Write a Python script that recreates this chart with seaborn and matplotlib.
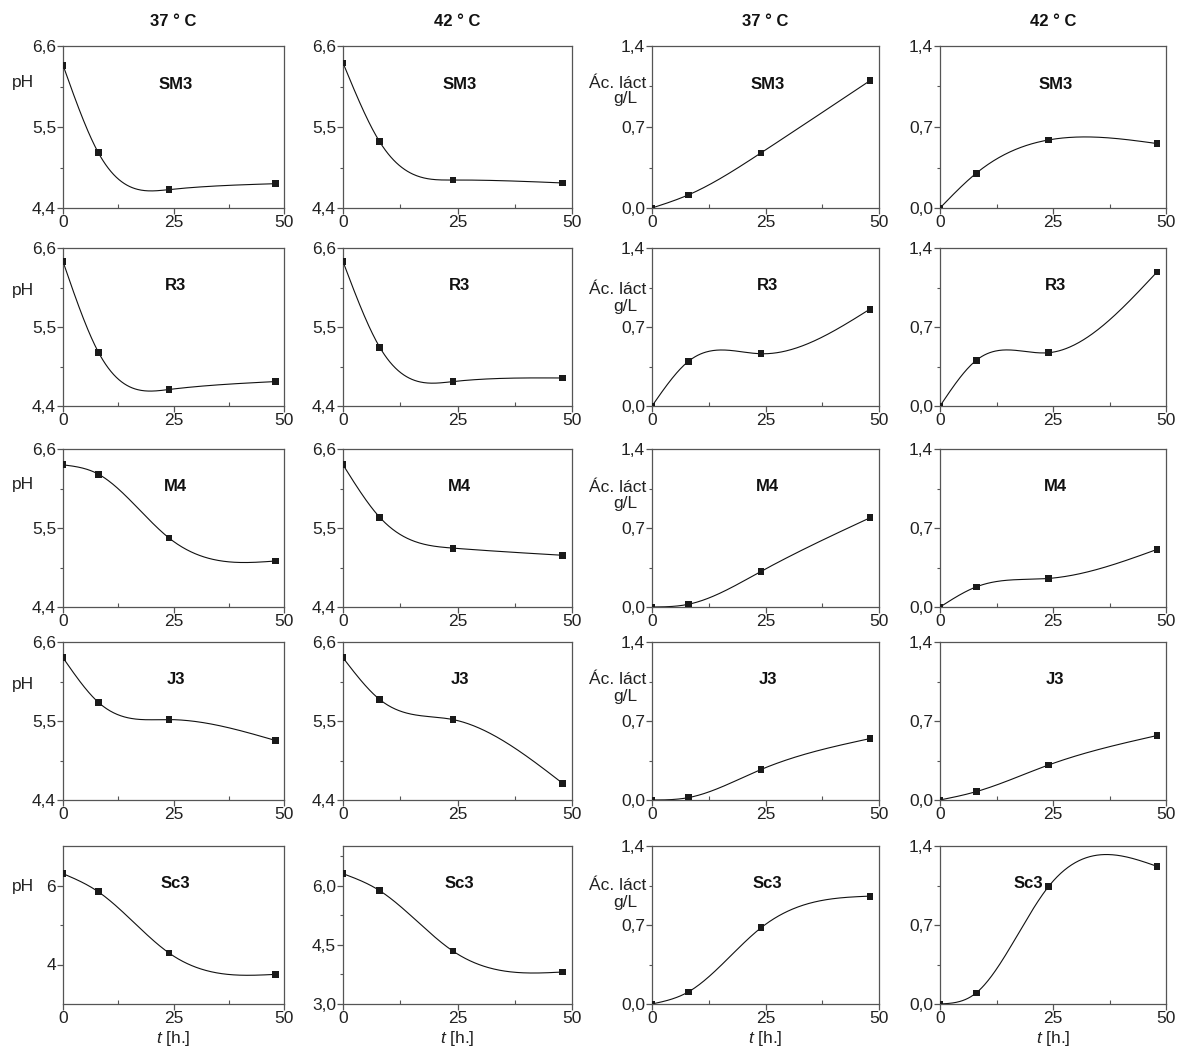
import numpy as np
import pandas as pd
import matplotlib
matplotlib.use("Agg")
import matplotlib.pyplot as plt
import seaborn as sns
from matplotlib.ticker import FixedLocator, FixedFormatter

# ---------------- data ----------------
t_hours = [0, 8, 24, 48]
strains = ["SM3", "R3", "M4", "J3", "Sc3"]
col_titles = ["37 ° C", "42 ° C", "37 ° C", "42 ° C"]

ph37_sm3 = [6.34, 5.15, 4.65, 4.73]
ph37_r3 = [6.41, 5.15, 4.63, 4.74]
ph37_m4 = [6.38, 6.25, 5.36, 5.04]
ph37_j3 = [6.38, 5.76, 5.52, 5.23]
ph37_sc3 = [6.30, 5.84, 4.29, 3.75]

ph42_sm3 = [6.37, 5.30, 4.78, 4.74]
ph42_r3 = [6.41, 5.22, 4.74, 4.79]
ph42_m4 = [6.38, 5.65, 5.22, 5.12]
ph42_j3 = [6.38, 5.80, 5.52, 4.63]
ph42_sc3 = [6.30, 5.87, 4.34, 3.81]

lac37_sm3 = [0.0, 0.113, 0.476, 1.10]
lac37_r3 = [0.0, 0.395, 0.463, 0.858]
lac37_m4 = [0.0, 0.024, 0.315, 0.79]
lac37_j3 = [0.0, 0.021, 0.27, 0.544]
lac37_sc3 = [0.0, 0.107, 0.675, 0.956]

lac42_sm3 = [0.0, 0.30, 0.588, 0.557]
lac42_r3 = [0.0, 0.404, 0.472, 1.187]
lac42_m4 = [0.0, 0.178, 0.253, 0.51]
lac42_j3 = [0.0, 0.074, 0.31, 0.571]
lac42_sc3 = [0.0, 0.098, 1.04, 1.22]

ph_ticks = [4.4, 5.5, 6.6]
ph_ticklabels = ["4,4", "5,5", "6,6"]
sc3_ph37_ticks = [4, 6]
sc3_ph37_ticklabels = ["4", "6"]
sc3_ph42_ticks = [3.0, 4.5, 6.0]
sc3_ph42_ticklabels = ["3,0", "4,5", "6,0"]
lac_ticks = [0.0, 0.7, 1.4]
lac_ticklabels = ["0,0", "0,7", "1,4"]
x_ticks = [0, 25, 50]
x_ticklabels = ["0", "25", "50"]

columns = [
    [ph37_sm3, ph37_r3, ph37_m4, ph37_j3, ph37_sc3],
    [ph42_sm3, ph42_r3, ph42_m4, ph42_j3, ph42_sc3],
    [lac37_sm3, lac37_r3, lac37_m4, lac37_j3, lac37_sc3],
    [lac42_sm3, lac42_r3, lac42_m4, lac42_j3, lac42_sc3],
]


def natural_spline(x, y, n=240):
    """Smooth connecting line (natural cubic spline) through the data points."""
    x = np.asarray(x, float)
    y = np.asarray(y, float)
    k = len(x)
    h = np.diff(x)
    A = np.zeros((k, k))
    b = np.zeros(k)
    A[0, 0] = 1.0
    A[-1, -1] = 1.0
    for i in range(1, k - 1):
        A[i, i - 1] = h[i - 1]
        A[i, i] = 2 * (h[i - 1] + h[i])
        A[i, i + 1] = h[i]
        b[i] = 6 * ((y[i + 1] - y[i]) / h[i] - (y[i] - y[i - 1]) / h[i - 1])
    M = np.linalg.solve(A, b)
    xs = np.linspace(x[0], x[-1], n)
    idx = np.clip(np.searchsorted(x, xs, side="right") - 1, 0, k - 2)
    x0, x1 = x[idx], x[idx + 1]
    hh = x1 - x0
    a = (x1 - xs) / hh
    bb = (xs - x0) / hh
    ys = (a * y[idx] + bb * y[idx + 1]
          + ((a ** 3 - a) * M[idx] + (bb ** 3 - bb) * M[idx + 1]) * hh ** 2 / 6)
    return xs, ys


# ---------------- style ----------------
sns.set_theme(style="white")
plt.rcParams["font.family"] = ["Liberation Sans", "DejaVu Sans"]
plt.rcParams["mathtext.fontset"] = "custom"
plt.rcParams["mathtext.rm"] = "Liberation Sans"
plt.rcParams["mathtext.it"] = "Liberation Sans:italic"

W, H = 1185, 1046
fig = plt.figure(figsize=(W / 100, H / 100), dpi=100)
fig.patch.set_facecolor("white")

col_x = [(63, 284), (343, 572), (652, 879), (940, 1166)]
row_y = [(46, 208), (248, 406), (449, 607), (642, 800), (846, 1004)]

spine_c = "#555555"
mark_c = "#1a1a1a"
tick_fs = 12.5

for c in range(4):
    for r in range(5):
        x0, x1 = col_x[c]
        y0, y1 = row_y[r]
        ax = fig.add_axes([x0 / W, 1 - y1 / H, (x1 - x0) / W, (y1 - y0) / H])
        vals = columns[c][r]
        df = pd.DataFrame({"t": t_hours, "v": vals})
        xs, ys = natural_spline(t_hours, vals)
        curve = pd.DataFrame({"t": xs, "v": ys})
        sns.lineplot(data=curve, x="t", y="v", sort=False, estimator=None,
                     color="#111111", lw=0.8, ax=ax)
        sns.scatterplot(data=df, x="t", y="v", marker="s", s=24, color=mark_c,
                        edgecolor="none", ax=ax, zorder=3, legend=False)
        ax.set_xlabel("")
        ax.set_ylabel("")
        ax.set_xlim(0, 50)
        ax.xaxis.set_major_locator(FixedLocator(x_ticks))
        ax.xaxis.set_major_formatter(FixedFormatter(x_ticklabels))
        ax.xaxis.set_minor_locator(FixedLocator([12.5, 37.5]))
        if c < 2:
            if r < 4:
                ax.set_ylim(4.4, 6.6)
                ticks, labels, minor = ph_ticks, ph_ticklabels, [4.95, 6.05]
            elif c == 0:
                ax.set_ylim(3.0, 7.0)
                ticks, labels, minor = sc3_ph37_ticks, sc3_ph37_ticklabels, [5.0]
            else:
                ax.set_ylim(3.0, 7.0)
                ticks, labels, minor = sc3_ph42_ticks, sc3_ph42_ticklabels, [3.75, 5.25, 6.75]
        else:
            ax.set_ylim(0.0, 1.4)
            ticks, labels, minor = lac_ticks, lac_ticklabels, [0.35, 1.05]
        ax.yaxis.set_major_locator(FixedLocator(ticks))
        ax.yaxis.set_major_formatter(FixedFormatter(labels))
        ax.yaxis.set_minor_locator(FixedLocator(minor))
        for s in ax.spines.values():
            s.set_visible(True)
            s.set_color(spine_c)
            s.set_linewidth(0.9)
        ax.tick_params(which="major", direction="out", length=4, width=0.9,
                       color=spine_c, labelsize=tick_fs, labelcolor="#222222", pad=1,
                       bottom=True, left=True)
        ax.tick_params(axis="x", which="minor", direction="in", length=3,
                       width=0.8, color=spine_c, bottom=True)
        ax.tick_params(axis="y", which="minor", direction="out", length=2.5,
                       width=0.8, color=spine_c, left=True)
        lx = 0.39 if (c == 3 and r == 4) else 0.51
        ax.text(lx, 0.76, strains[r], transform=ax.transAxes, ha="center",
                va="center", fontsize=12, fontweight="bold", color="#111111")
        if r == 4:
            ax.set_xlabel(r"$\mathit{t}$ [h.]", fontsize=12.5, labelpad=2,
                          color="#222222")

# column titles
for c in range(4):
    cx = (col_x[c][0] + col_x[c][1]) / 2
    fig.text(cx / W, 1 - 21 / H, col_titles[c], ha="center", va="center",
             fontsize=12, fontweight="bold", color="#111111")

# y labels
ph_label_y = [83, 291, 485, 684, 886]
lac_label_y = [(83, 99), (290, 306), (487, 504), (679, 697), (885, 902)]
for r in range(5):
    fig.text(23 / W, 1 - ph_label_y[r] / H, "pH", ha="center", va="center",
             fontsize=12.5, color="#222222")
    fig.text(618 / W, 1 - lac_label_y[r][0] / H, "Ác. láct", ha="center",
             va="center", fontsize=12.5, color="#222222")
    fig.text(625 / W, 1 - lac_label_y[r][1] / H, "g/L", ha="center",
             va="center", fontsize=12.5, color="#222222")

fig.savefig("out.png", dpi=100, facecolor="white")
